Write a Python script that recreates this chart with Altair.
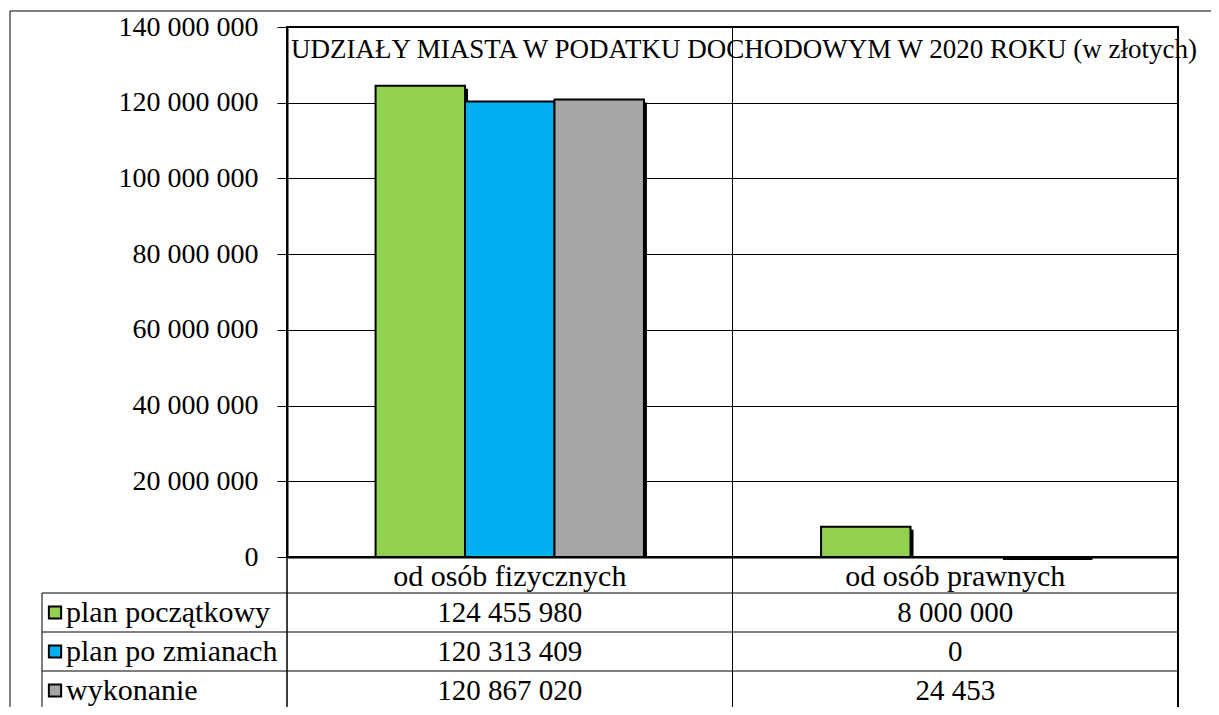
import altair as alt
import pandas as pd

title_text = "UDZIAŁY MIASTA  W PODATKU DOCHODOWYM W 2020 ROKU (w złotych)"
categories = ["od osób fizycznych", "od osób prawnych"]
series = ["plan początkowy", "plan po zmianach", "wykonanie"]
plan_poczatkowy = [124455980, 8000000]
plan_po_zmianach = [120313409, 0]
wykonanie = [120867020, 24453]
colors = ["#92D050", "#00B0F0", "#A6A6A6"]
y_ticks = [0, 20000000, 40000000, 60000000, 80000000, 100000000, 120000000, 140000000]

FONT = "'Liberation Serif', 'Times New Roman', Times, serif"
W, H = 891, 530
ROW_TOP, ROW_BOTTOM = 566, 683
TABLE_LEFT = -245
FRAME_LEFT, FRAME_TOP = -277, -16
BOTTOM = 705

rows = []
for s, vals in zip(series, [plan_poczatkowy, plan_po_zmianach, wykonanie]):
    for c, v in zip(categories, vals):
        rows.append({"kategoria": c, "seria": s, "wartosc": v,
                     "etykieta": f"{v:,}".replace(",", " ")})
df = pd.DataFrame(rows)
series_df = pd.DataFrame({"seria": series})
cat_df = pd.DataFrame({"kategoria": categories})

x_scale = alt.Scale(domain=categories, paddingInner=0, paddingOuter=0)
xo_scale = alt.Scale(domain=series, paddingInner=0, paddingOuter=0.99)
xo_shadow_scale = alt.Scale(domain=series, paddingInner=0, paddingOuter=0.99, range=[3, W / 2 + 3])
y_scale = alt.Scale(domain=[0, 140000000], nice=False)
row_scale = alt.Scale(domain=series, range=[ROW_TOP, ROW_BOTTOM], paddingInner=0, paddingOuter=0)
color_scale = alt.Scale(domain=series, range=colors)

x_axis = alt.Axis(labelAngle=0, labelFont=FONT, labelFontSize=30, labelColor="black",
                  labelBaseline="middle", labelPadding=19, labelLimit=0, ticks=False, tickSize=0,
                  domainColor="black", domainWidth=2, grid=False, title=None)

shadow = alt.Chart(df).transform_filter("datum.wartosc > 0").mark_bar(color="black", yOffset=3).encode(
    x=alt.X("kategoria:N", scale=x_scale, sort=categories, axis=x_axis),
    xOffset=alt.XOffset("seria:N", scale=xo_shadow_scale, sort=series),
    y=alt.Y("wartosc:Q", scale=y_scale, axis=None),
    y2=alt.Y2(datum=0),
)

bars = alt.Chart(df).mark_bar(stroke="black", strokeWidth=2).encode(
    x=alt.X("kategoria:N", scale=x_scale, sort=categories, axis=x_axis),
    xOffset=alt.XOffset("seria:N", scale=xo_scale, sort=series),
    y=alt.Y("wartosc:Q", scale=y_scale, title=None,
            axis=alt.Axis(values=y_ticks, labelFont=FONT, labelFontSize=28, labelColor="black",
                          labelPadding=19, tickSize=10, tickColor="black", tickWidth=1,
                          domainColor="black", domainWidth=2, grid=True, gridColor="black",
                          gridWidth=1, gridOpacity=1,
                          labelExpr="replace(format(datum.value, ','), /,/g, ' ')")),
    fill=alt.Fill("seria:N", scale=color_scale, legend=None),
)

table_text = alt.Chart(df).mark_text(font=FONT, fontSize=29, color="black", baseline="middle").encode(
    x=alt.X("kategoria:N", scale=x_scale, sort=categories, axis=x_axis),
    y=alt.Y("seria:N", scale=row_scale, axis=None),
    text="etykieta:N",
)

legend_sq = alt.Chart(series_df).mark_square(size=150, stroke="black", strokeWidth=2, opacity=1).encode(
    x=alt.value(TABLE_LEFT + 13),
    y=alt.Y("seria:N", scale=row_scale, axis=None),
    fill=alt.Fill("seria:N", scale=color_scale, legend=None),
)

legend_txt = alt.Chart(series_df).mark_text(font=FONT, fontSize=30, color="black",
                                            align="left", baseline="middle").encode(
    x=alt.value(TABLE_LEFT + 24),
    y=alt.Y("seria:N", scale=row_scale, axis=None),
    text="seria:N",
)

row_lines = alt.Chart(series_df).mark_rule(color="black", strokeWidth=1).encode(
    x=alt.value(TABLE_LEFT), x2=alt.value(W),
    y=alt.Y("seria:N", scale=row_scale, axis=None, bandPosition=0),
)

cat_lines = alt.Chart(cat_df).mark_rule(color="black", strokeWidth=1).encode(
    x=alt.X("kategoria:N", scale=x_scale, sort=categories, axis=x_axis, bandPosition=0),
    y=alt.value(0), y2=alt.value(BOTTOM),
)

left_axis_ext = alt.Chart(cat_df.head(1)).mark_rule(color="black", strokeWidth=1).encode(
    x=alt.value(0), y=alt.value(H), y2=alt.value(BOTTOM))
right_line = alt.Chart(cat_df.head(1)).mark_rule(color="black", strokeWidth=2).encode(
    x=alt.value(W), y=alt.value(0), y2=alt.value(BOTTOM))
table_left = alt.Chart(cat_df.head(1)).mark_rule(color="black", strokeWidth=1).encode(
    x=alt.value(TABLE_LEFT), y=alt.value(ROW_TOP), y2=alt.value(BOTTOM))
frame_top = alt.Chart(cat_df.head(1)).mark_rule(color="black", strokeWidth=1).encode(
    x=alt.value(FRAME_LEFT), x2=alt.value(W + 60), y=alt.value(FRAME_TOP))
frame_left = alt.Chart(cat_df.head(1)).mark_rule(color="black", strokeWidth=1).encode(
    x=alt.value(FRAME_LEFT), y=alt.value(FRAME_TOP), y2=alt.value(BOTTOM))

title = alt.Chart(pd.DataFrame({"t": [title_text]})).mark_text(
    font=FONT, fontSize=27, color="black", align="left", baseline="middle").encode(
    x=alt.value(4), y=alt.value(23), text="t:N")

chart = alt.layer(
    shadow, bars, cat_lines, table_text, legend_sq, legend_txt, row_lines,
    left_axis_ext, right_line, table_left, frame_top, frame_left, title
).resolve_scale(y="independent", xOffset="independent", fill="shared").properties(
    width=W, height=H,
    autosize=alt.AutoSizeParams(type="none"),
    padding={"left": 279, "top": 19, "right": 33, "bottom": 150},
    background="white",
).configure_view(stroke="black", strokeWidth=2)

chart.save("out.html", embed_options={"renderer": "svg", "actions": False})
